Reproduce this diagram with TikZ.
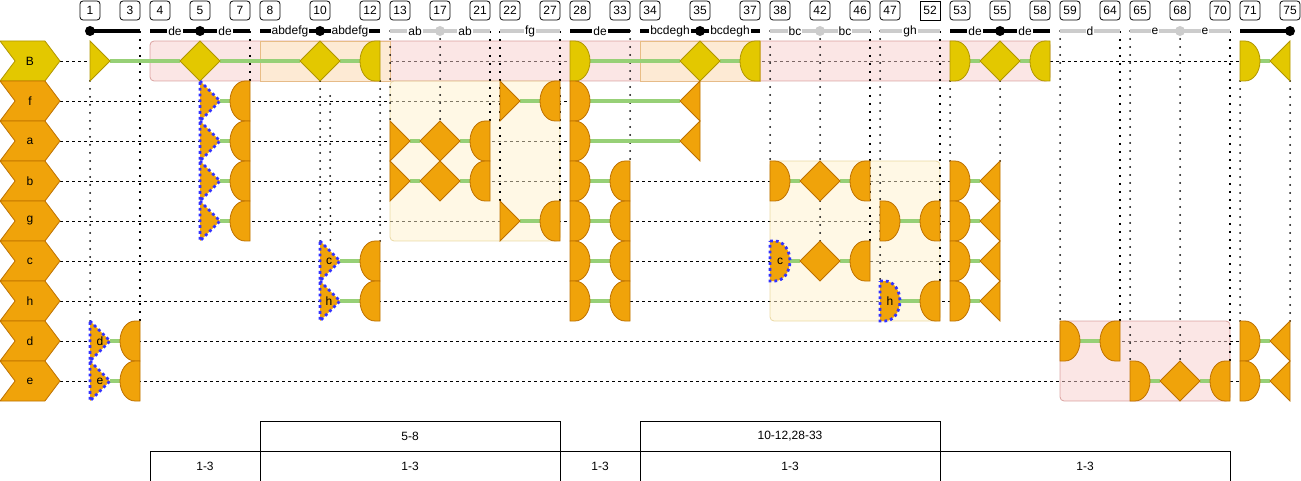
\documentclass[tikz,border=0pt]{standalone}
\usepackage{fontspec}
\setmainfont{Liberation Sans}
\usetikzlibrary{positioning,shapes.symbols}
\definecolor{cYel}{HTML}{E3C800}
\definecolor{cYelD}{HTML}{B09500}
\definecolor{cOrg}{HTML}{F0A30A}
\definecolor{cOrgD}{HTML}{BD7000}
\definecolor{cGrn}{HTML}{97D077}
\definecolor{cSel}{HTML}{3333FF}
\definecolor{cBar}{HTML}{CCCCCC}
\definecolor{cPink}{HTML}{F8CECC}
\definecolor{cPinkD}{HTML}{B85450}
\definecolor{cPeach}{HTML}{FDEAD4}
\definecolor{cPeachD}{HTML}{E3B273}
\definecolor{cCream}{HTML}{FFF2CC}
\definecolor{cCreamD}{HTML}{D6B656}
\newcommand\fs{\fontsize{12}{14}\selectfont}
\pgfdeclarelayer{rows}
\pgfdeclarelayer{zones}
\pgfdeclarelayer{wires}
\pgfsetlayers{rows,zones,wires,main}
\tikzset{
  yel/.style={fill=cYel, draw=cYelD, line width=0.8pt},
  org/.style={fill=cOrg, draw=cOrgD, line width=0.8pt},
  sel/.style={fill=cOrg, draw=cSel, line width=2.8pt, dash pattern=on 2.8pt off 3pt},
  chev/.style={signal, signal from=west, signal to=east, signal pointer angle=106,
               minimum width=60, minimum height=40, inner sep=0, outer sep=0,
               line width=0.8pt, font=\fs},
  colbox/.style={draw, rounded corners=3pt, minimum width=20, minimum height=19,
                 inner sep=0, line width=0.8pt, font=\fs},
  tag/.style={fill=white, text=black, inner sep=1pt, font=\fs},
  lbl/.style={font=\fs, inner sep=0},
  cell/.style={draw, line width=1pt, minimum width=#1, minimum height=30,
               inner sep=0, outer sep=0, font=\fs},
  barK/.style={line width=4pt, black},
  barG/.style={line width=4pt, cBar},
  link/.style={cGrn, line width=4pt},
  row/.style={line width=0.8pt, dash pattern=on 3pt off 3pt},
  vdot/.style={line width=2pt, line cap=round, dash pattern=on 0pt off 8pt},
  vsq/.style={line width=2pt, dash pattern=on 2pt off 6pt},
  pinkzone/.style={fill=cPink, fill opacity=0.5, draw=cPinkD, draw opacity=0.5,
                   rounded corners=4pt, line width=0.8pt},
  peachzone/.style={fill=cPeach, draw=cPeachD, draw opacity=0.8, line width=0.8pt},
  creamzone/.style={fill=cCream, fill opacity=0.5, draw=cCreamD, draw opacity=0.5,
                    rounded corners=4pt, line width=0.8pt},
  trir/.pic={\path[pic actions] (0,-20) -- (20,0) -- (0,20) -- cycle;
    \coordinate (-w) at (0,0); \coordinate (-e) at (20,0);
    \coordinate (-top) at (0,-20); \coordinate (-bot) at (0,20);},
  tril/.pic={\path[pic actions] (0,-20) -- (-20,0) -- (0,20) -- cycle;
    \coordinate (-w) at (-20,0); \coordinate (-e) at (0,0);
    \coordinate (-top) at (0,-20); \coordinate (-bot) at (0,20);},
  halfr/.pic={\path[pic actions] (0,-20) -- (5,-20)
      arc[start angle=-90, end angle=90, x radius=15, y radius=20] -- (0,20) -- cycle;
    \coordinate (-w) at (0,0); \coordinate (-e) at (20,0);
    \coordinate (-top) at (0,-20); \coordinate (-bot) at (0,20);},
  halfl/.pic={\path[pic actions] (0,-20) -- (-5,-20)
      arc[start angle=-90, end angle=-270, x radius=15, y radius=20] -- (0,20) -- cycle;
    \coordinate (-w) at (-20,0); \coordinate (-e) at (0,0);
    \coordinate (-top) at (0,-20); \coordinate (-bot) at (0,20);},
  dia/.pic={\path[pic actions] (0,-20) -- (20,0) -- (0,20) -- (-20,0) -- cycle;
    \coordinate (-w) at (-20,0); \coordinate (-e) at (20,0);
    \coordinate (-top) at (0,-20); \coordinate (-bot) at (0,20);},
}
\begin{document}
\begin{tikzpicture}[x=1pt, y=-1pt, node distance=0pt]
  \useasboundingbox (0,0) rectangle (1301,481);
  % column numbers
  \foreach \x/\n in {90/1,130/3,160/4,200/5,240/7,270/8,320/10,370/12,400/13,
      440/17,480/21,510/22,550/27,580/28,620/33,650/34,700/35,750/37,780/38,
      820/42,860/46,890/47,960/53,1000/55,1040/58,1070/59,1110/64,1140/65,
      1180/68,1220/70,1250/71,1290/75}
    \node[colbox] (n\n) at (\x,10.5) {\n};
  \node[colbox, sharp corners] (n52) at (930,10.5) {52};
  \coordinate (bary) at (0,31);
  % segment bars
  \draw[barK] (90,31) -- (140,31);
  \fill (90,31) circle[radius=5];
  \draw[barK] (150,31) -- node[tag] {de} (200,31) -- node[tag] {de} (250,31);
  \fill (200,31) circle[radius=5];
  \draw[barK] (260,31) -- node[tag] {abdefg} (320,31) -- node[tag] {abdefg} (380,31);
  \fill (320,31) circle[radius=5];
  \draw[barG] (390,31) -- node[tag] {ab} (440,31) -- node[tag] {ab} (490,31);
  \fill[cBar] (440,31) circle[radius=5];
  \draw[barG] (500,31) -- node[tag] {fg} (560,31);
  \draw[barK] (570,31) -- node[tag] {de} (630,31);
  \draw[barK] (640,31) -- node[tag] {bcdegh} (700,31) -- node[tag] {bcdegh} (760,31);
  \fill (700,31) circle[radius=5];
  \draw[barG] (770,31) -- node[tag] {bc} (820,31) -- node[tag] {bc} (870,31);
  \fill[cBar] (820,31) circle[radius=5];
  \draw[barG] (880,31) -- node[tag] {gh} (940,31);
  \draw[barK] (950,31) -- node[tag] {de} (1000,31) -- node[tag] {de} (1050,31);
  \fill (1000,31) circle[radius=5];
  \draw[barG] (1060,31) -- node[tag] {d} (1120,31);
  \draw[barG] (1130,31) -- node[tag] {e} (1180,31) -- node[tag] {e} (1230,31);
  \fill[cBar] (1180,31) circle[radius=5];
  \draw[barK] (1240,31) -- (1290,31);
  \fill (1290,31) circle[radius=5];
  % zones
  \begin{pgfonlayer}{zones}
    \draw[pinkzone] (150,41) rectangle (1050,81);
    \draw[peachzone] (260,41) rectangle (390,81);
    \draw[peachzone] (640,41) rectangle (760,81);
    \draw[creamzone] (390,81) rectangle (560,241);
    \draw[creamzone] (770,161) rectangle (940,321);
    \draw[pinkzone] (1060,321) rectangle (1230,401);
  \end{pgfonlayer}
  % row heads
  \node[chev, fill=cYel, draw=cYelD] (rB) at (30,61) {B};
  \node[chev, fill=cOrg, draw=cOrgD] (rf) at (30,101) {f};
  \node[chev, fill=cOrg, draw=cOrgD] (ra) at (30,141) {a};
  \node[chev, fill=cOrg, draw=cOrgD] (rb) at (30,181) {b};
  \node[chev, fill=cOrg, draw=cOrgD] (rg) at (30,221) {g};
  \node[chev, fill=cOrg, draw=cOrgD] (rc) at (30,261) {c};
  \node[chev, fill=cOrg, draw=cOrgD] (rh) at (30,301) {h};
  \node[chev, fill=cOrg, draw=cOrgD] (rd) at (30,341) {d};
  \node[chev, fill=cOrg, draw=cOrgD] (re) at (30,381) {e};
  % row B
  \pic[yel] (B1) at (90,61) {trir};
  \pic[yel] (B5) at (200,61) {dia};
  \pic[yel] (B10) at (320,61) {dia};
  \pic[yel] (B12) at (380,61) {halfl};
  \pic[yel] (B28) at (570,61) {halfr};
  \pic[yel] (B35) at (700,61) {dia};
  \pic[yel] (B37) at (760,61) {halfl};
  \pic[yel] (B53) at (950,61) {halfr};
  \pic[yel] (B55) at (1000,61) {dia};
  \pic[yel] (B58) at (1050,61) {halfl};
  \pic[yel] (B71) at (1240,61) {halfr};
  \pic[yel] (B75) at (1290,61) {tril};
  % row f
  \pic[sel] (f5) at (200,101) {trir};
  \pic[org] (f7) at (250,101) {halfl};
  \pic[org] (f22) at (500,101) {trir};
  \pic[org] (f27) at (560,101) {halfl};
  \pic[org] (f28) at (570,101) {halfr};
  \pic[org] (f35) at (700,101) {tril};
  % row a
  \pic[sel] (a5) at (200,141) {trir};
  \pic[org] (a7) at (250,141) {halfl};
  \pic[org] (a13) at (390,141) {trir};
  \pic[org] (a17) at (440,141) {dia};
  \pic[org] (a21) at (490,141) {halfl};
  \pic[org] (a28) at (570,141) {halfr};
  \pic[org] (a35) at (700,141) {tril};
  % row b
  \pic[sel] (b5) at (200,181) {trir};
  \pic[org] (b7) at (250,181) {halfl};
  \pic[org] (b13) at (390,181) {trir};
  \pic[org] (b17) at (440,181) {dia};
  \pic[org] (b21) at (490,181) {halfl};
  \pic[org] (b28) at (570,181) {halfr};
  \pic[org] (b33) at (630,181) {halfl};
  \pic[org] (b38) at (770,181) {halfr};
  \pic[org] (b42) at (820,181) {dia};
  \pic[org] (b46) at (870,181) {halfl};
  \pic[org] (b53) at (950,181) {halfr};
  \pic[org] (b55) at (1000,181) {tril};
  % row g
  \pic[sel] (g5) at (200,221) {trir};
  \pic[org] (g7) at (250,221) {halfl};
  \pic[org] (g22) at (500,221) {trir};
  \pic[org] (g27) at (560,221) {halfl};
  \pic[org] (g28) at (570,221) {halfr};
  \pic[org] (g33) at (630,221) {halfl};
  \pic[org] (g47) at (880,221) {halfr};
  \pic[org] (g52) at (940,221) {halfl};
  \pic[org] (g53) at (950,221) {halfr};
  \pic[org] (g55) at (1000,221) {tril};
  % row c
  \pic[sel] (c10) at (320,261) {trir};
  \pic[org] (c12) at (380,261) {halfl};
  \pic[org] (c28) at (570,261) {halfr};
  \pic[org] (c33) at (630,261) {halfl};
  \pic[sel] (c38) at (770,261) {halfr};
  \pic[org] (c42) at (820,261) {dia};
  \pic[org] (c46) at (870,261) {halfl};
  \pic[org] (c53) at (950,261) {halfr};
  \pic[org] (c55) at (1000,261) {tril};
  % row h
  \pic[sel] (h10) at (320,301) {trir};
  \pic[org] (h12) at (380,301) {halfl};
  \pic[org] (h28) at (570,301) {halfr};
  \pic[org] (h33) at (630,301) {halfl};
  \pic[sel] (h47) at (880,301) {halfr};
  \pic[org] (h52) at (940,301) {halfl};
  \pic[org] (h53) at (950,301) {halfr};
  \pic[org] (h55) at (1000,301) {tril};
  % row d
  \pic[sel] (d1) at (90,341) {trir};
  \pic[org] (d3) at (140,341) {halfl};
  \pic[org] (d59) at (1060,341) {halfr};
  \pic[org] (d64) at (1120,341) {halfl};
  \pic[org] (d71) at (1240,341) {halfr};
  \pic[org] (d75) at (1290,341) {tril};
  % row e
  \pic[sel] (e1) at (90,381) {trir};
  \pic[org] (e3) at (140,381) {halfl};
  \pic[org] (e65) at (1130,381) {halfr};
  \pic[org] (e68) at (1180,381) {dia};
  \pic[org] (e70) at (1230,381) {halfl};
  \pic[org] (e71) at (1240,381) {halfr};
  \pic[org] (e75) at (1290,381) {tril};
  % labels on selected shapes
  \node[lbl] (ld1) at (100,341) {d};
  \node[lbl] (le1) at (100,381) {e};
  \node[lbl] (lc10) at (329,261) {c};
  \node[lbl] (lh10) at (329,301) {h};
  \node[lbl] (lc38) at (780,261) {c};
  \node[lbl] (lh47) at (890,301) {h};
  % row lines
  \begin{pgfonlayer}{rows}
    \draw[row] (rB.east) -- (B71-w);
    \draw[row] (rf.east) -- (f28-w);
    \draw[row] (ra.east) -- (a28-w);
    \draw[row] (rb.east) -- (b53-w);
    \draw[row] (rg.east) -- (g53-w);
    \draw[row] (rc.east) -- (c53-w);
    \draw[row] (rh.east) -- (h53-w);
    \draw[row] (rd.east) -- (d71-w);
    \draw[row] (re.east) -- (e71-w);
  \end{pgfonlayer}
  \begin{pgfonlayer}{wires}
    % column guides
    \draw[vdot] (B1-bot) -- (d1-top);
    \draw[vsq] (d3-top |- bary) -- (d3-top);
    \draw[vsq] (f7-top |- bary) -- (f7-top);
    \draw[vdot] (B10-bot) -- (c10-top);
    \draw[vdot] (330,96) -- (n10.east |- c10-top);
    \draw[vdot] (B12-bot) -- (c12-top);
    \draw[vdot] (a13-top |- bary) -- (a13-top);
    \draw[vdot] (a17-top |- bary) -- (a17-top);
    \draw[vsq] (a21-top |- bary) -- (a21-top);
    \draw[vsq] (g22-top |- bary) -- (g22-top);
    \draw[vsq] (g27-top |- bary) -- (g27-top);
    \draw[vdot] (b33-top |- bary) -- (b33-top);
    \draw[vdot] (b38-top |- bary) -- (b38-top);
    \draw[vdot] (b42-top |- bary) -- (b42-top);
    \draw[vdot] (b42-bot) -- (c42-top);
    \draw[vsq] (c46-top |- bary) -- (c46-top);
    \draw[vdot] (h47-top |- bary) -- (h47-top);
    \draw[vsq] (h52-top |- bary) -- (h52-top);
    \draw[vdot] (B53-bot) -- (b53-top);
    \draw[vdot] (B55-bot) -- (b55-top);
    \draw[vdot] (d59-top |- bary) -- (d59-top);
    \draw[vsq] (d64-top |- bary) -- (d64-top);
    \draw[vdot] (e65-top |- bary) -- (e65-top);
    \draw[vdot] (e68-top |- bary) -- (e68-top);
    \draw[vsq] (e70-top |- bary) -- (e70-top);
    \draw[vdot] (B71-bot) -- (d71-top);
    \draw[vdot] (B75-bot) -- (d75-top);
    % green links
    \draw[link] (B1-e) -- (B5-w);
    \draw[link] (B5-e) -- (B10-w);
    \draw[link] (B10-e) -- (B12-w);
    \draw[link] (B28-e) -- (B35-w);
    \draw[link] (B35-e) -- (B37-w);
    \draw[link] (B53-e) -- (B55-w);
    \draw[link] (B55-e) -- (B58-w);
    \draw[link] (B71-e) -- (B75-w);
    \draw[link] (f5-e) -- (f7-w);
    \draw[link] (f22-e) -- (f27-w);
    \draw[link] (f28-e) -- (f35-w);
    \draw[link] (a5-e) -- (a7-w);
    \draw[link] (a13-e) -- (a17-w);
    \draw[link] (a17-e) -- (a21-w);
    \draw[link] (a28-e) -- (a35-w);
    \draw[link] (b5-e) -- (b7-w);
    \draw[link] (b13-e) -- (b17-w);
    \draw[link] (b17-e) -- (b21-w);
    \draw[link] (b28-e) -- (b33-w);
    \draw[link] (b38-e) -- (b42-w);
    \draw[link] (b42-e) -- (b46-w);
    \draw[link] (b53-e) -- (b55-w);
    \draw[link] (g5-e) -- (g7-w);
    \draw[link] (g22-e) -- (g27-w);
    \draw[link] (g28-e) -- (g33-w);
    \draw[link] (g47-e) -- (g52-w);
    \draw[link] (g53-e) -- (g55-w);
    \draw[link] (c10-e) -- (c12-w);
    \draw[link] (c28-e) -- (c33-w);
    \draw[link] (c38-e) -- (c42-w);
    \draw[link] (c42-e) -- (c46-w);
    \draw[link] (c53-e) -- (c55-w);
    \draw[link] (h10-e) -- (h12-w);
    \draw[link] (h28-e) -- (h33-w);
    \draw[link] (h47-e) -- (h52-w);
    \draw[link] (h53-e) -- (h55-w);
    \draw[link] (d1-e) -- (d3-w);
    \draw[link] (d59-e) -- (d64-w);
    \draw[link] (d71-e) -- (d75-w);
    \draw[link] (e1-e) -- (e3-w);
    \draw[link] (e65-e) -- (e68-w);
    \draw[link] (e68-e) -- (e70-w);
    \draw[link] (e71-e) -- (e75-w);
  \end{pgfonlayer}
  % ranges table
  \node[cell=110] (u1) at (205,466) {1-3};
  \node[cell=300, right=of u1] (u2) {1-3};
  \node[cell=80, right=of u2] (u3) {1-3};
  \node[cell=300, right=of u3] (u4) {1-3};
  \node[cell=290, right=of u4] (u5) {1-3};
  \node[cell=300, above=of u2] (t58) {5-8};
  \node[cell=300, above=of u4] (t1012) {10-12,28-33};
\end{tikzpicture}
\end{document}
